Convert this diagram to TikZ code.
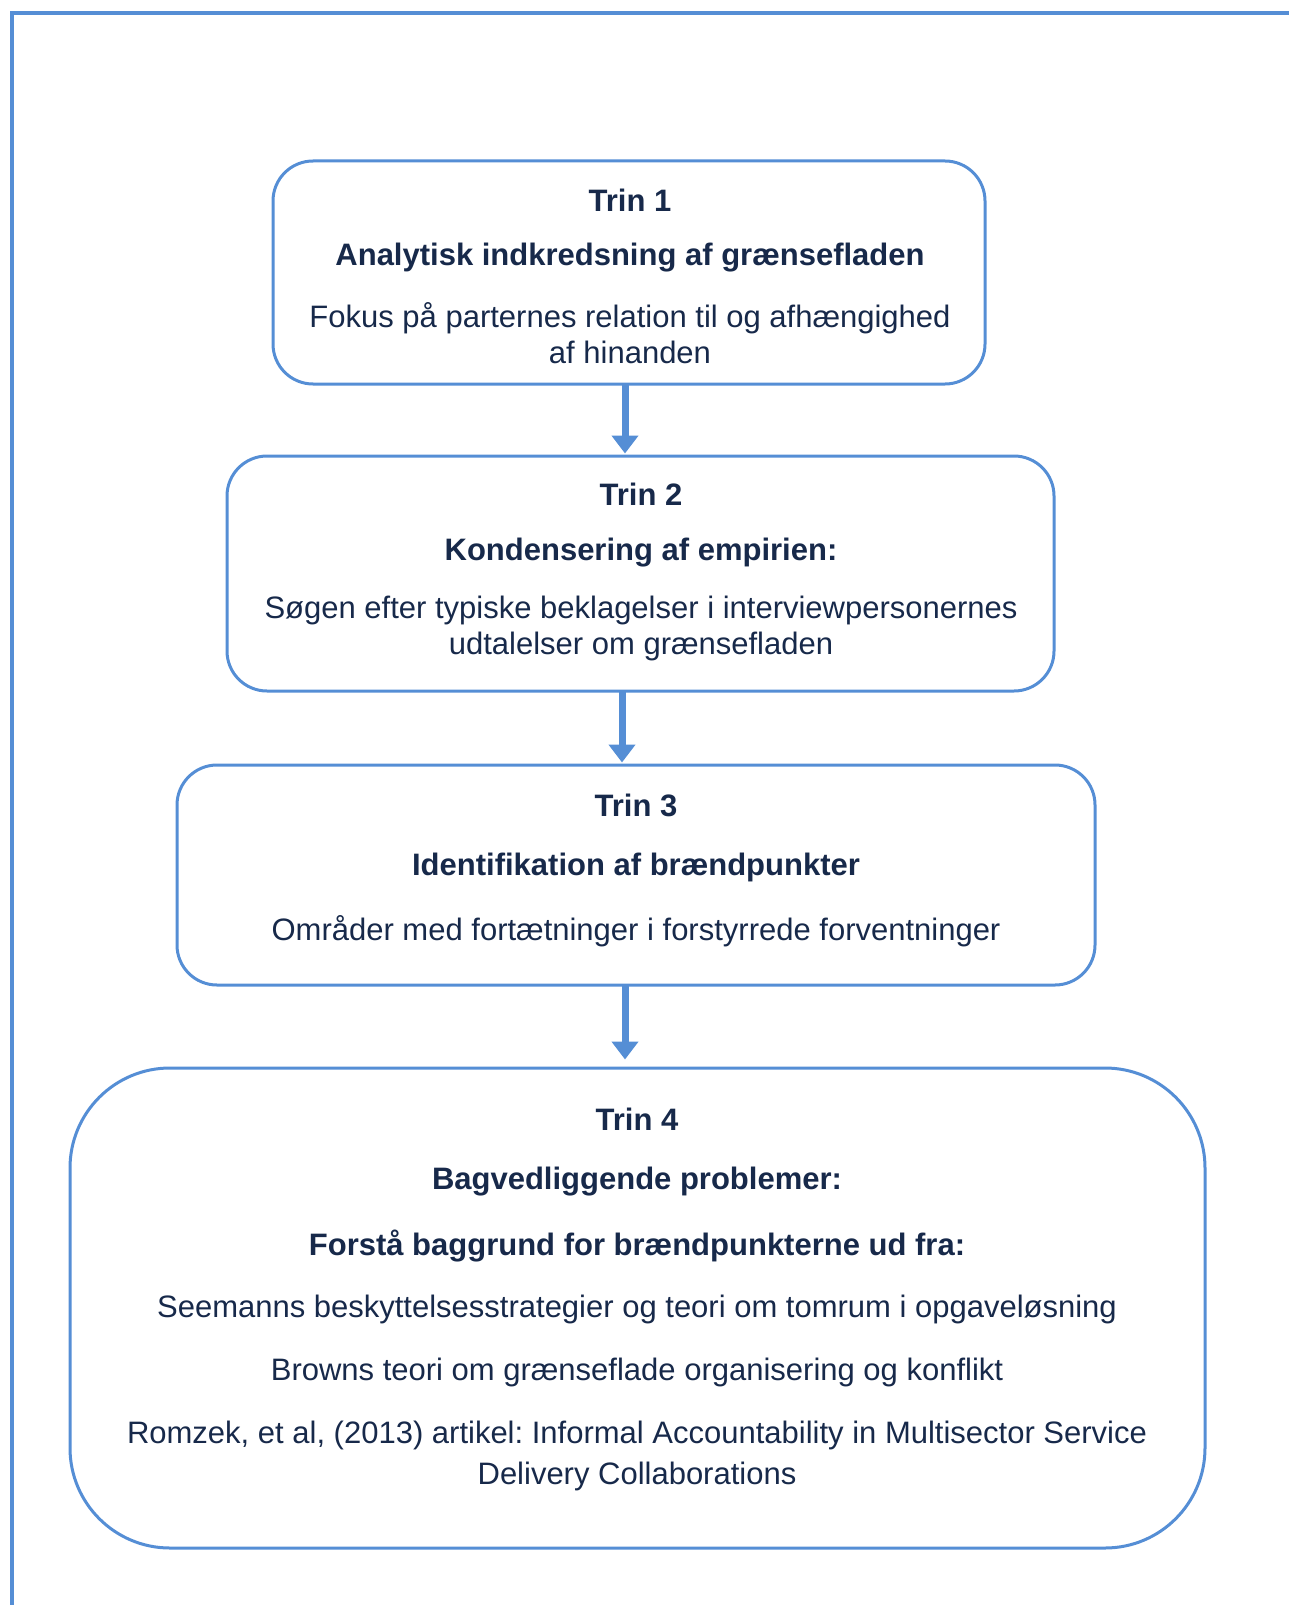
\documentclass[tikz,border=0pt]{standalone}
\usepackage{fontspec}
\setmainfont{Liberation Sans}
\usetikzlibrary{arrows.meta}
\definecolor{lineblue}{HTML}{558ED5}
\definecolor{txt}{HTML}{17294A}
\frenchspacing
\begin{document}
\begin{tikzpicture}[x=1pt,y=-1pt,
  box/.style={draw=lineblue,line width=3pt,rounded corners=#1,inner sep=0pt},
  box/.default=40pt,
  lbl/.style={text=txt,font=\fontsize{31}{36}\selectfont,align=center,inner sep=0pt,anchor=center},
  bl/.style={lbl,font=\fontsize{31}{36}\selectfont\bfseries},
  arr/.style={draw=lineblue,line width=7pt,-{Triangle[length=18pt,width=26pt]},shorten >=1pt}
]
\useasboundingbox (0,0) rectangle (1288,1605);
\draw[lineblue,line width=4pt] (11.5,1610) -- (11.5,13.5) -- (1292,13.5);
% boxes
\node[box, minimum width=712pt, minimum height=223pt] (b1) at (629,272.5) {};
\node[box, minimum width=827pt, minimum height=235pt] (b2) at (640.5,573.5) {};
\node[box, minimum width=918pt, minimum height=220pt] (b3) at (636,875) {};
\node[box=100pt, minimum width=1135pt, minimum height=480pt] (b4) at (637.5,1308) {};
% texts
\node[bl] (t1a) at (630,200) {Trin 1};
\node[bl] (t1b) at (630,258) {Analytisk indkredsning af grænsefladen};
\node[lbl] (t1c) at (630,333) {Fokus på parternes relation til og afhængighed\\af hinanden};
\node[bl] (t2a) at (641,494) {Trin 2};
\node[bl] (t2b) at (641,553) {Kondensering af empirien:};
\node[lbl] (t2c) at (641,628.5) {Søgen efter typiske beklagelser i interviewpersonernes\\udtalelser om grænsefladen};
\node[bl] (t3a) at (636,805) {Trin 3};
\node[bl] (t3b) at (636,867) {Identifikation af brændpunkter};
\node[lbl] (t3c) at (636,931) {Områder med fortætninger i forstyrrede forventninger};
\node[bl] (t4a) at (637,1119) {Trin 4};
\node[bl] (t4b) at (637,1182) {Bagvedliggende problemer:};
\node[bl] (t4c) at (637,1246) {Forstå baggrund for brændpunkterne ud fra:};
\node[lbl] (t4d) at (637,1309) {Seemanns beskyttelsesstrategier og teori om tomrum i opgaveløsning};
\node[lbl] (t4e) at (637,1372) {Browns teori om grænseflade organisering og konflikt};
\node[lbl,font=\fontsize{31}{41}\selectfont] (t4f) at (637,1455.5) {Romzek, et al, (2013) artikel: Informal Accountability in Multisector Service\\Delivery Collaborations};
% arrows
\coordinate (a1) at (625,384);
\coordinate (a2) at (622,691);
\coordinate (a3) at (625,985);
\draw[arr] (a1) -- (a1 |- b2.north);
\draw[arr] (a2) -- (a2 |- b3.north);
\draw[arr] (a3) -- ([yshift=6pt]a3 |- b4.north);
\end{tikzpicture}
\end{document}
